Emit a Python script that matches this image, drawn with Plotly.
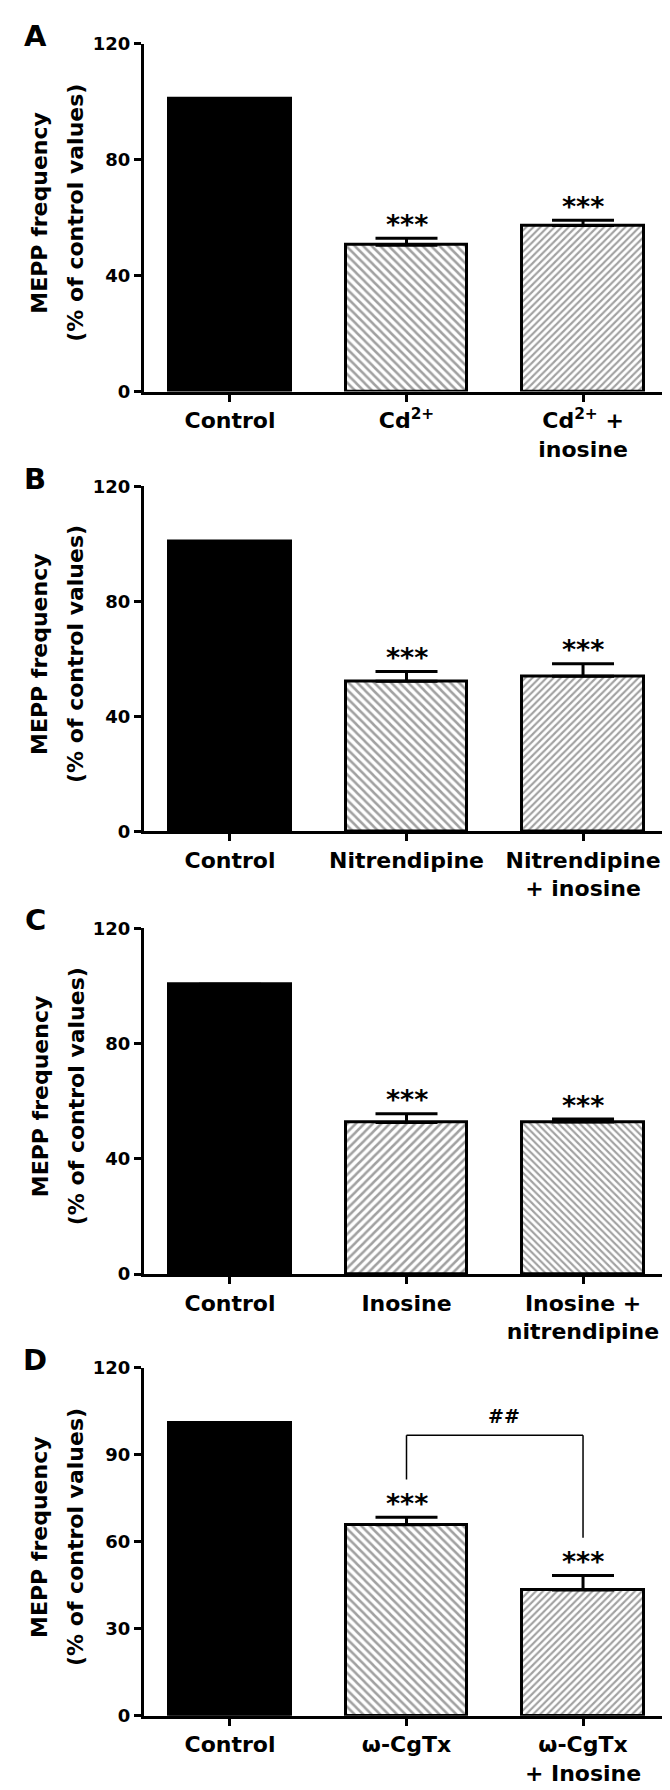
import plotly.graph_objects as go

W, H = 670, 1790

# ---------------- data ----------------
panel_letters = ["A", "B", "C", "D"]
labels_A = ["Control", "Cd<sup>2+</sup>", "Cd<sup>2+</sup> +<br>inosine"]
means_A = [101, 50.5, 57.3]
errs_A = [None, 2.4, 1.8]

labels_B = ["Control", "Nitrendipine", "Nitrendipine<br>+ inosine"]
means_B = [100.8, 52.2, 54.0]
errs_B = [None, 3.4, 4.3]

labels_C = ["Control", "Inosine", "Inosine +<br>nitrendipine"]
means_C = [100.6, 52.6, 52.8]
errs_C = [None, 3.0, 1.0]

labels_D = ["Control", "ω-CgTx", "ω-CgTx<br>+ Inosine"]
means_D = [101, 65.9, 43.4]
errs_D = [None, 2.6, 5.0]

sig_A = ["", "***", "***"]
sig_B = ["", "***", "***"]
sig_C = ["", "***", "***"]
sig_D = ["", "***", "***"]

yticks_ABC = [0, 40, 80, 120]
yticks_D = [0, 30, 60, 90, 120]

# bracket in panel D (between ω-CgTx and ω-CgTx + Inosine)
bracket_x = [1, 2]
bracket_top = 96.8
bracket_left_bottom = 81.5
bracket_right_bottom = 61.4
bracket_label = "##"
bracket_label_y = 103.6

ytitle_1 = "MEPP frequency"
ytitle_2 = "(% of control values)"

# ---------------- layout geometry (pixels) ----------------
panels = [
    dict(labels=labels_A, means=means_A, errs=errs_A, sig=sig_A, ticks=yticks_ABC,
         top=25, bottom=377, hatch=["", "\\", "/"]),
    dict(labels=labels_B, means=means_B, errs=errs_B, sig=sig_B, ticks=yticks_ABC,
         top=473, bottom=822, hatch=["", "\\", "/"]),
    dict(labels=labels_C, means=means_C, errs=errs_C, sig=sig_C, ticks=yticks_ABC,
         top=920, bottom=1270, hatch=["", "/", "\\"]),
    dict(labels=labels_D, means=means_D, errs=errs_D, sig=sig_D, ticks=yticks_D,
         top=1365, bottom=1717, hatch=["", "\\", "/"]),
]

AX_LEFT, AX_RIGHT = 136, 658
XRANGE = [-0.487, 2.47]
FONT = "DejaVu Sans"


def px_x(x):
    return x / W


def px_y(y):
    return 1 - y / H


fig = go.Figure()
annotations = []
shapes = []

for i, p in enumerate(panels):
    n = i + 1
    xa = "x" if n == 1 else f"x{n}"
    ya = "y" if n == 1 else f"y{n}"
    xcats = list(range(len(p["labels"])))
    fig.add_trace(go.Bar(
        x=xcats, y=p["means"], xaxis=xa, yaxis=ya, width=0.686,
        marker=dict(
            color=["black", "white", "white"],
            line=dict(color="black", width=3),
            pattern=dict(shape=p["hatch"], fgcolor="black", bgcolor="white",
                         size=[6, 6, 5], solidity=0.42),
        ),
        error_y=dict(type="data", array=p["errs"], arrayminus=[0, 0, 0],
                     symmetric=False, color="black", thickness=3, width=31),
        showlegend=False, hoverinfo="skip",
    ))
    xkey = "xaxis" if n == 1 else f"xaxis{n}"
    ykey = "yaxis" if n == 1 else f"yaxis{n}"
    fig.update_layout(**{
        xkey: dict(domain=[px_x(AX_LEFT), px_x(AX_RIGHT)], range=XRANGE, anchor=ya,
                   tickvals=xcats, ticktext=p["labels"], ticks="outside", ticklen=7,
                   tickwidth=3, tickcolor="black", showline=True, linewidth=3,
                   linecolor="black", showgrid=False, zeroline=False,
                   tickfont=dict(family=FONT, size=22, color="black", weight="bold")),
        ykey: dict(domain=[px_y(p["bottom"]), px_y(p["top"])], range=[0, 120], anchor=xa,
                   tickvals=p["ticks"], ticks="outside", ticklen=7, tickwidth=3,
                   tickcolor="black", showline=True, linewidth=3, linecolor="black",
                   showgrid=False, zeroline=False,
                   tickfont=dict(family=FONT, size=18, color="black", weight="bold")),
    })
    # significance stars
    for xc, m, e, s in zip(xcats, p["means"], p["errs"], p["sig"]):
        if s:
            annotations.append(dict(
                x=xc, y=m + (e or 0), xref=xa, yref=ya, text=s, showarrow=False,
                xanchor="center", yanchor="middle", yshift=14,
                font=dict(family=FONT, size=27, color="black", weight="bold")))
    # panel letter
    annotations.append(dict(
        x=px_x(27), y=px_y(p["top"] - 8), xref="paper", yref="paper",
        text=panel_letters[i], showarrow=False, xanchor="center", yanchor="middle",
        font=dict(family=FONT, size=29, color="black", weight="bold")))
    # y-axis title (two lines)
    yc = (p["top"] + p["bottom"]) / 2 - 5
    annotations.append(dict(
        x=px_x(32), y=px_y(yc), xref="paper", yref="paper", text=ytitle_1,
        textangle=-90, showarrow=False, xanchor="center", yanchor="middle",
        font=dict(family=FONT, size=22, color="black", weight="bold")))
    annotations.append(dict(
        x=px_x(68), y=px_y(yc), xref="paper", yref="paper", text=ytitle_2,
        textangle=-90, showarrow=False, xanchor="center", yanchor="middle",
        font=dict(family=FONT, size=22, color="black", weight="bold")))

# bracket in panel D
line_style = dict(color="black", width=1.5)
shapes.append(dict(type="line", xref="x4", yref="y4", x0=bracket_x[0], x1=bracket_x[0],
                   y0=bracket_left_bottom, y1=bracket_top, line=line_style))
shapes.append(dict(type="line", xref="x4", yref="y4", x0=bracket_x[0], x1=bracket_x[1],
                   y0=bracket_top, y1=bracket_top, line=line_style))
shapes.append(dict(type="line", xref="x4", yref="y4", x0=bracket_x[1], x1=bracket_x[1],
                   y0=bracket_right_bottom, y1=bracket_top, line=line_style))
annotations.append(dict(
    x=(bracket_x[0] + bracket_x[1]) / 2 + 0.05, y=bracket_label_y, xref="x4", yref="y4",
    text=bracket_label, showarrow=False, xanchor="center", yanchor="middle",
    font=dict(family=FONT, size=19, color="black", weight="bold")))

fig.update_layout(
    width=W, height=H, margin=dict(l=0, r=0, t=0, b=0),
    paper_bgcolor="white", plot_bgcolor="white",
    annotations=annotations, shapes=shapes, bargap=0,
)

fig.write_html("out.html")
